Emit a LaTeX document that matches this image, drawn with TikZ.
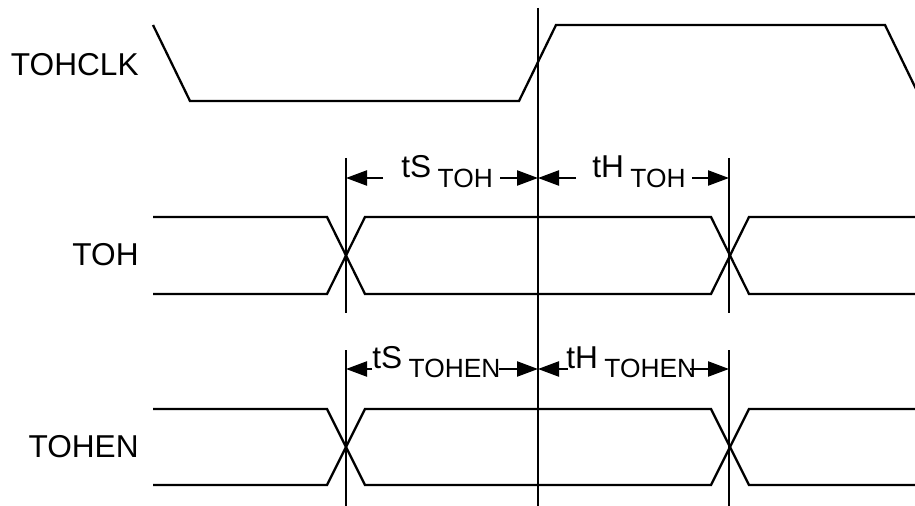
\documentclass[tikz,border=0pt]{standalone}
\usepackage{fontspec}
\setmainfont{Liberation Sans}
\usetikzlibrary{arrows.meta}

\tikzset{
  sig/.style={line width=1.3pt, line join=miter},
  edgeline/.style={line width=1.1pt},
  dim/.style={line width=1.3pt, -{Triangle[length=0.42cm,width=0.3cm]}},
  lbl/.style={inner sep=0, anchor=east, font=\fontsize{18}{21}\selectfont},
  tlbl/.style={inner sep=0, anchor=base west, font=\fontsize{18}{21}\selectfont}
}
\newcommand{\lowsub}[1]{\hspace{0.13cm}\raisebox{-0.2cm}{\fontsize{15}{17}\selectfont #1}}

\begin{document}
\begin{tikzpicture}[x=0.02cm, y=-0.02cm]
\useasboundingbox (0,0) rectangle (915,506);

\node[lbl] (clk) at (139,65) {TOHCLK};
\node[lbl] (toh) at (139,255) {TOH};
\node[lbl] (tohen) at (139,447) {TOHEN};

\draw[sig] (153,25) -- (190,101) -- (519,101) -- (556,25) -- (885,25) -- (916,89);

\foreach \hi/\lo in {217/294, 409/485} {
  \draw[sig] (153,\hi) -- (327,\hi) -- (365,\lo) -- (711,\lo) -- (749,\hi) -- (916,\hi);
  \draw[sig] (153,\lo) -- (327,\lo) -- (365,\hi) -- (711,\hi) -- (749,\lo) -- (916,\lo);
}

\coordinate (ref top) at (538,8);
\coordinate (ref bot) at (538,507);
\draw[edgeline] (ref top) -- (ref bot);
\foreach \x in {346, 729} {
  \draw[edgeline] (\x,158) -- (\x,313);
  \draw[edgeline] (\x,350) -- (\x,506);
}

\node[tlbl] (ts toh) at (401,178) {tS\lowsub{TOH}};
\node[tlbl] (th toh) at (592,178) {tH\lowsub{TOH}};
\node[tlbl] (ts tohen) at (372,368) {tS\lowsub{TOHEN}};
\node[tlbl] (th tohen) at (566,368) {tH\lowsub{TOHEN}};

\coordinate (s1) at (346,178);
\coordinate (c1) at (538,178);
\coordinate (h1) at (729,178);
\coordinate (s2) at (346,369);
\coordinate (c2) at (538,369);
\coordinate (h2) at (729,369);

\draw[dim] (383,178) -- (s1);
\draw[dim] (500,178) -- (c1);
\draw[dim] (576,178) -- (c1);
\draw[dim] (692,178) -- (h1);
\draw[dim] (372,369) -- (s2);
\draw[dim] (499,369) -- (c2);
\draw[dim] (568,369) -- (c2);
\draw[dim] (690,369) -- (h2);
\end{tikzpicture}
\end{document}
